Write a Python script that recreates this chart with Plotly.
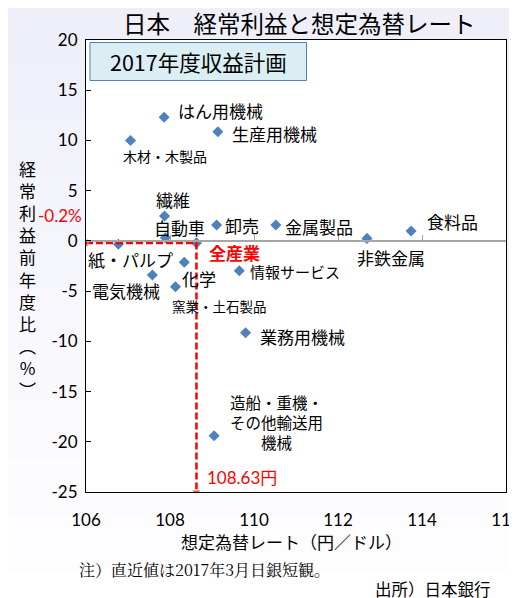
import plotly.graph_objects as go

# ---- data ----
categories = ["はん用機械", "生産用機械", "木材・木製品", "繊維", "自動車", "卸売", "金属製品",
              "食料品", "非鉄金属", "全産業", "紙・パルプ", "化学", "電気機械", "窯業・土石製品",
              "情報サービス", "業務用機械", "造船・重機・その他輸送用機械"]
fx_rate = [107.86, 109.14, 107.06, 107.87, 107.89, 109.11, 110.52,
           113.74, 112.69, 108.63, 106.77, 108.34, 107.58, 108.13,
           109.65, 109.80, 109.05]
profit_yoy = [12.3, 10.87, 10.0, 2.48, 0.32, 1.58, 1.58,
              0.98, 0.25, -0.2, -0.34, -2.13, -3.4, -4.56,
              -2.97, -9.14, -19.4]
total_name = "全産業"
x_ticks = [106, 108, 110, 112, 114, 116]
y_ticks = [20, 15, 10, 5, 0, -5, -10, -15, -20, -25]

# ---- label styling (display text, anchor, pixel offsets, font size) ----
label_style = {
    "はん用機械": ("はん用機械", "left", 12, 7, 17),
    "生産用機械": ("生産用機械", "left", 12, -2, 17),
    "木材・木製品": ("木材・木製品", "center", 34, -16, 14),
    "繊維": ("繊維", "center", 8, 16, 17),
    "自動車": ("自動車", "center", 14, 10, 17),
    "卸売": ("卸売", "left", 6, 0, 17),
    "金属製品": ("金属製品", "left", 7, -1, 17),
    "食料品": ("食料品", "left", 14, 10, 17),
    "非鉄金属": ("非鉄金属", "center", 24, -19, 17),
    "全産業": ("<b>全産業</b>", "left", 11, -10, 17),
    "紙・パルプ": ("紙・パルプ", "center", 12, -15, 17),
    "化学": ("化学", "left", -4, -16, 17),
    "電気機械": ("電気機械", "center", -26, -15, 17),
    "窯業・土石製品": ("窯業・土石製品", "center", 44, -19, 13.5),
    "情報サービス": ("情報サービス", "left", 9, -1, 15),
    "業務用機械": ("業務用機械", "left", 12, -4, 17),
    "造船・重機・その他輸送用機械": ("造船・重機・<br>その他輸送用<br>機械", "center", 62, 14, 15.5),
}

# page body has an 8px margin: figure is drawn 8px right/down of the window origin
OFF = 8
W, H = 517 - OFF, 598 - OFF
L, R, T, B = 86 - OFF, 11, 40 - OFF, 106
xmin, xmax = x_ticks[0], x_ticks[-1]
ymin, ymax = y_ticks[-1], y_ticks[0]

JP = "Noto Sans CJK JP"
NUM = "Lato, Noto Sans CJK JP"
BLUE = "#4F81BD"
RED = "#FF0000"

fig = go.Figure()

# background gradient bands (paper) + white plot area
n_bands = 12
top_c = (237, 237, 250)
for i in range(n_bands):
    t = i / (n_bands - 1)
    c = tuple(int(round(top_c[k] + (255 - top_c[k]) * t)) for k in range(3))
    fig.add_shape(type="rect", xref="paper", yref="paper",
                  x0=-0.3, x1=1.1, y0=1.2 - (i + 1) * 1.5 / n_bands, y1=1.2 - i * 1.5 / n_bands,
                  fillcolor=f"rgb{c}", line_width=0, layer="below")
fig.add_shape(type="rect", xref="x", yref="y", x0=xmin, x1=xmax, y0=ymin, y1=ymax,
              fillcolor="white", line_width=0, layer="below")

# scatter points
fig.add_trace(go.Scatter(x=fx_rate, y=profit_yoy, mode="markers",
                         marker=dict(symbol="diamond", size=8.5, color=BLUE),
                         hoverinfo="skip", showlegend=False))

# red dashed reference lines for total
ti = categories.index(total_name)
tx, ty = fx_rate[ti], profit_yoy[ti]
fig.add_trace(go.Scatter(x=[xmin, tx, tx], y=[ty, ty, ymin], mode="lines+markers",
                         line=dict(color=RED, width=2.5, dash="7px,3px"),
                         marker=dict(symbol=["triangle-left", "circle", "triangle-down"],
                                     size=[8, 0, 8], color=RED),
                         hoverinfo="skip", showlegend=False))

# helper trace on zero-crossing axis
fig.add_trace(go.Scatter(x=[], y=[], xaxis="x2", showlegend=False))

annotations = []
for name, xv, yv in zip(categories, fx_rate, profit_yoy):
    text, anchor, dx, dy, size = label_style[name]
    color = RED if name == total_name else "black"
    annotations.append(dict(x=xv, y=yv, xref="x", yref="y", text=text, showarrow=False,
                            xanchor=anchor, yanchor="middle", xshift=dx, yshift=dy,
                            font=dict(family=JP, size=size, color=color)))

# helpers: window pixel coords -> paper coords
def px(xp):
    return (xp - OFF - L) / (W - L - R)

def py(yp):
    return (H - B - (yp - OFF)) / (H - T - B)

# title
annotations.append(dict(x=px(299), y=py(22.5), xref="paper", yref="paper", showarrow=False,
                        text="日本　経常利益と想定為替レート", xanchor="center", yanchor="middle",
                        font=dict(family=JP, size=23.5, color="black")))
# box
fig.add_shape(type="rect", xref="paper", yref="paper", x0=px(90), x1=px(306.5),
              y0=py(80.5), y1=py(42.5), fillcolor="#DAEEF3", line=dict(color=BLUE, width=1))
annotations.append(dict(x=px(198), y=py(62), xref="paper", yref="paper", showarrow=False,
                        text="2017年度収益計画", xanchor="center", yanchor="middle",
                        font=dict(family=JP, size=21.5, color="black")))
# y-axis title (vertical)
ytitle_chars = ["経", "常", "利", "益", "前", "年", "度", "比", "︵", "%", "︶"]
annotations.append(dict(x=px(28), y=py(279), xref="paper", yref="paper", showarrow=False,
                        text="<br>".join(ytitle_chars), xanchor="center", yanchor="middle",
                        font=dict(family=JP, size=17, color="black")))
# x-axis title
annotations.append(dict(x=px(291), y=py(541), xref="paper", yref="paper", showarrow=False,
                        text="想定為替レート（円／ドル）", xanchor="center", yanchor="middle",
                        font=dict(family=JP, size=17, color="black")))
# notes
annotations.append(dict(x=px(77), y=py(569), xref="paper", yref="paper", showarrow=False,
                        text="注）直近値は2017年3月日銀短観。", xanchor="left", yanchor="middle",
                        font=dict(family="Noto Serif CJK JP, " + JP, size=16, color="black")))
annotations.append(dict(x=px(493), y=py(588.5), xref="paper", yref="paper", showarrow=False,
                        text="出所）日本銀行", xanchor="right", yanchor="middle",
                        font=dict(family=JP, size=16.5, color="black")))
# red value labels
annotations.append(dict(x=px(84), y=ty, xref="paper", yref="y", showarrow=False,
                        text=f"{ty}%", xanchor="right", yanchor="middle", yshift=27,
                        font=dict(family=NUM, size=17, color=RED)))
annotations.append(dict(x=tx, y=ymin, xref="x", yref="y", showarrow=False,
                        text=f"{tx:.2f}円", xanchor="left", yanchor="middle", xshift=9, yshift=15,
                        font=dict(family=NUM, size=17, color=RED)))

fig.update_layout(
    width=W, height=H,
    margin=dict(l=L, r=R, t=T, b=B, autoexpand=False),
    paper_bgcolor="rgb(246,246,253)",
    plot_bgcolor="rgba(0,0,0,0)",
    showlegend=False,
    annotations=annotations,
    xaxis=dict(range=[xmin, xmax], tickvals=x_ticks, ticktext=[str(v) for v in x_ticks],
               showgrid=False, zeroline=False, showline=True, linecolor="black", linewidth=1,
               mirror=True, ticks="", ticklabelstandoff=13, ticklabeloverflow="allow",
               automargin=False,
               tickfont=dict(family=NUM, size=17, color="black")),
    xaxis2=dict(range=[xmin, xmax], overlaying="x", anchor="free",
                position=(0 - ymin) / (ymax - ymin), side="bottom",
                tickvals=x_ticks[1:-1], showticklabels=False, ticks="inside", ticklen=5,
                tickcolor="#A6A6A6", showline=True, linecolor="#A6A6A6", linewidth=1.5,
                showgrid=False, zeroline=False, automargin=False),
    yaxis=dict(range=[ymin, ymax], tickvals=y_ticks, ticktext=[str(v) for v in y_ticks],
               showgrid=False, zeroline=False, showline=True, linecolor="black", linewidth=1,
               mirror=True, ticks="inside", ticklen=5, tickcolor="black", ticklabelstandoff=4,
               automargin=False,
               tickfont=dict(family=NUM, size=17, color="black")),
)

fig.write_html("out.html")
